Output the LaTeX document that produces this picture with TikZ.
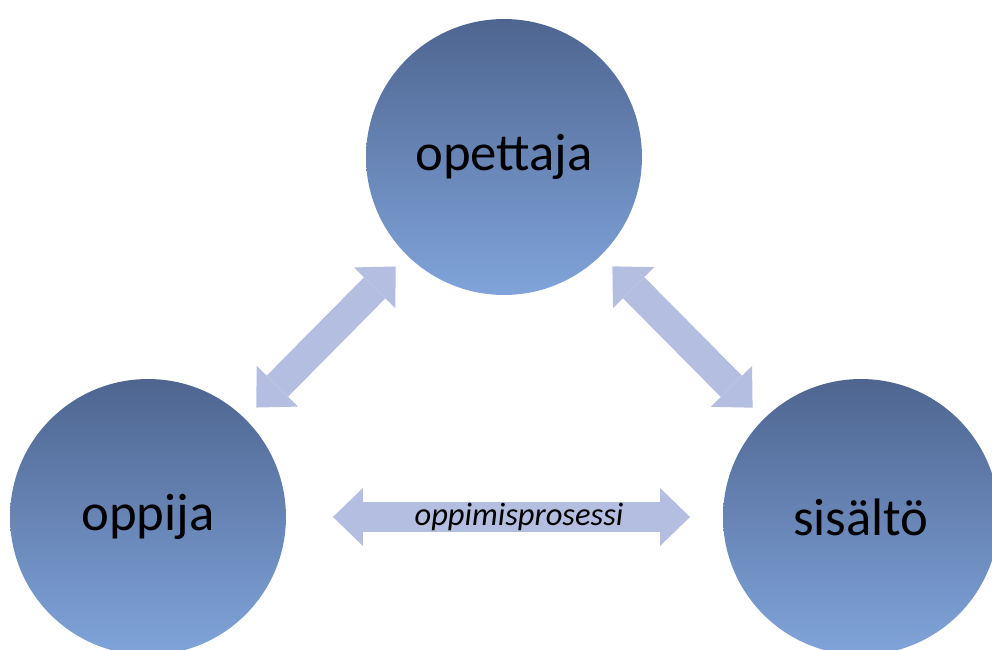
\documentclass[tikz,border=0pt]{standalone}
\usepackage{fontspec}
\setmainfont{Carlito}
\usetikzlibrary{arrows.meta}

\definecolor{circtop}{RGB}{78,101,144}
\definecolor{circbottom}{RGB}{128,164,218}
\definecolor{arrowfill}{RGB}{179,190,224}

\begin{document}
\begin{tikzpicture}[
    x=0.02cm, y=-0.02cm,
    topic/.style={
        circle, minimum size=5.52cm, inner sep=0pt, outer sep=0pt,
        top color=circtop, bottom color=circbottom,
        font=\fontsize{30}{36}\selectfont
      },
    link/.style={
        draw=arrowfill, line width=0.6cm,
        {Triangle[length=0.6cm, width=1.16cm, line width=0pt]}-{Triangle[length=0.6cm, width=1.16cm, line width=0pt]}
      },
    linklabel/.style={font=\fontsize{18.5}{22}\selectfont\itshape, inner sep=0pt}
  ]
  \useasboundingbox (0,0) rectangle (992,650);

  % the three circles
  \node[topic] (opettaja) at (504,157) {opettaja};
  \node[topic] (oppija) at (148,517) {oppija};
  \node[topic] (sisalto) at (861,517) {sisältö};

  % double arrows between them
  \draw[link, shorten <=0.32cm, shorten >=0.32cm] (oppija) -- (opettaja);
  \draw[link, shorten <=0.32cm, shorten >=0.32cm] (opettaja) -- (sisalto);
  \draw[link, shorten <=0.94cm, shorten >=0.66cm] (oppija) -- (sisalto);

  % annotation of the lower arrow
  \node[linklabel] (prosessi) at (519,517) {oppimisprosessi};
\end{tikzpicture}
\end{document}
